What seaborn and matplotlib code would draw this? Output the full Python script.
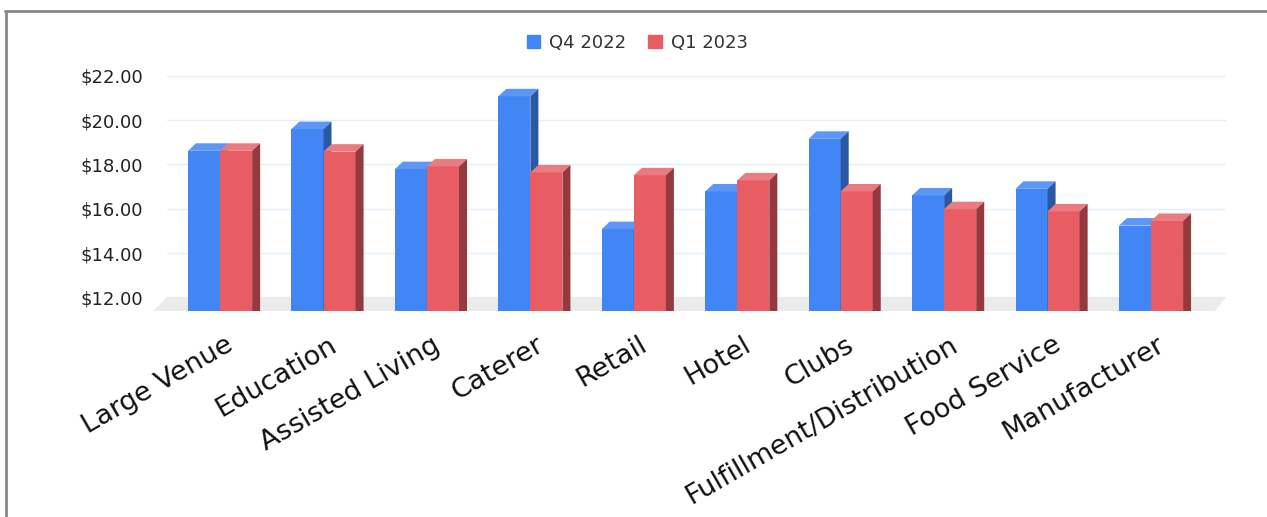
import matplotlib
matplotlib.use('Agg')
import matplotlib.pyplot as plt
import matplotlib.transforms as mtransforms
import seaborn as sns
import pandas as pd
from matplotlib.patches import Polygon, Patch
from matplotlib.lines import Line2D

categories = ['Large Venue', 'Education', 'Assisted Living', 'Caterer', 'Retail',
              'Hotel', 'Clubs', 'Fulfillment/Distribution', 'Food Service', 'Manufacturer']
q4_2022 = [18.62, 19.60, 17.79, 21.08, 15.08, 16.78, 19.16, 16.60, 16.90, 15.24]
q1_2023 = [18.62, 18.58, 17.91, 17.64, 17.51, 17.28, 16.78, 15.98, 15.88, 15.45]
series = ['Q4 2022', 'Q1 2023']
y_ticks = [12, 14, 16, 18, 20, 22]

front = ['#4285f4', '#e85c64']
top_c = ['#5c97f6', '#ec7b81']
side_c = ['#2b58a3', '#943a3f']

df = pd.DataFrame({
    'category': categories * 2,
    'period': [series[0]] * len(categories) + [series[1]] * len(categories),
    'value': q4_2022 + q1_2023,
})

sns.set_style('white')
plt.rcParams['font.family'] = ['DejaVu Sans']

W, H = 1267, 517
fig = plt.figure(figsize=(W / 100, H / 100), dpi=100)
ax_l, ax_r, ax_b, ax_t = 167, 1226, 311, 70
ax = fig.add_axes([ax_l / W, 1 - ax_b / H, (ax_r - ax_l) / W, (ax_b - ax_t) / H])

sns.barplot(data=df, x='category', y='value', hue='period', order=categories,
            hue_order=series, palette=front, width=0.62, saturation=1,
            linewidth=0, edgecolor='none', ax=ax)

xlo, xhi = -0.513, 9.725
ylo, yhi = 11.38, 22.27
ax.set_xlim(xlo, xhi)
ax.set_ylim(ylo, yhi)

# pixel -> data scale for the fake 3d depth
px_x = (ax_r - ax_l) / (xhi - xlo)
px_y = (ax_b - ax_t) / (yhi - ylo)
dx, dy = 8 / px_x, 7.5 / px_y

# floor
fx0 = xlo - 14 / px_x
fx1 = xhi - 11 / px_x
floor = Polygon([(fx0, ylo), (fx1, ylo), (xhi, 12), (xlo, 12)], closed=True,
                fc='#ebebeb', ec='none', zorder=1, clip_on=False)
ax.add_patch(floor)

for h, cont in enumerate(ax.containers):
    for rect in cont:
        x0, w, top = rect.get_x(), rect.get_width(), rect.get_height()
        rect.set_zorder(2 + 2 * h)
        ax.add_patch(Polygon([(x0, top), (x0 + w, top), (x0 + w + dx, top + dy), (x0 + dx, top + dy)],
                             closed=True, fc=top_c[h], ec='none', zorder=2.5 + 2 * h))
        ax.add_patch(Polygon([(x0 + w, ylo), (x0 + w, top), (x0 + w + dx, top + dy), (x0 + w + dx, ylo)],
                             closed=True, fc=side_c[h], ec='none', zorder=2.5 + 2 * h))

ax.set_axisbelow(True)
ax.grid(axis='y', color='#e3f0fa', lw=1)
ax.grid(axis='x', visible=False)
ax.set_yticks(y_ticks)
ax.set_yticklabels([f'${v:.2f}' for v in y_ticks])
ax.set_xticks(range(len(categories)))
ax.set_xticklabels(categories, rotation=30, ha='right', rotation_mode='anchor')
ax.tick_params(axis='y', length=0, pad=17, labelsize=13, labelcolor='#222222')
ax.tick_params(axis='x', length=0, pad=15, labelsize=19.5, labelcolor='#111111')
shift = mtransforms.ScaledTranslation(5 / 100, 0, fig.dpi_scale_trans)
for lab in ax.get_xticklabels():
    lab.set_transform(lab.get_transform() + shift)
ax.set_xlabel('')
ax.set_ylabel('')
for s in ax.spines.values():
    s.set_visible(False)

ax.get_legend().remove()
handles = [Patch(color=c) for c in front]
fig.legend(handles, series, loc='center', bbox_to_anchor=(0.503, 1 - 43 / H), ncol=2,
           frameon=False, fontsize=13, handlelength=0.75, handleheight=0.75,
           handletextpad=0.5, columnspacing=1.2, labelcolor='#333333')

# outer frame (top and left edges)
fig.add_artist(Line2D([5 / W, 1], [1 - 11 / H, 1 - 11 / H], color='#8a8a8a', lw=2))
fig.add_artist(Line2D([6 / W, 6 / W], [0, 1 - 11 / H], color='#8a8a8a', lw=2))

fig.savefig('out.png', dpi=100)
